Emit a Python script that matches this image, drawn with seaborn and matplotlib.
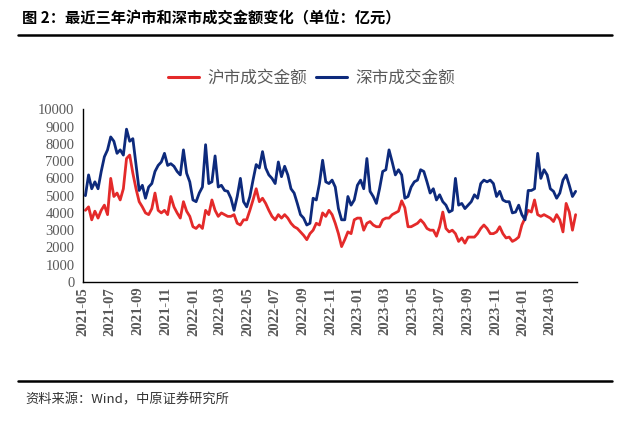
import pandas as pd
import matplotlib.pyplot as plt
import matplotlib.dates as mdates
from matplotlib.lines import Line2D
import seaborn as sns

# weekly readings (亿元), Friday of each week
dates = pd.date_range('2021-05-07', periods=156, freq='7D')

sh_amount = [4150, 4350, 3600, 4100, 3700, 4150, 4450, 3900, 6000, 4950, 5150, 4750, 5400,
             7150, 7350, 6300, 5400, 4650, 4350, 4000, 3900, 4250, 5150, 4150, 4000, 4150,
             3900, 4950, 4350, 4000, 3700, 4650, 4100, 3800, 3200, 3100, 3300, 3100, 4150,
             3900, 4750, 4150, 3800, 4000, 3900, 3800, 3800, 3900, 3400, 3300, 3600, 3600,
             4150, 4750, 5400, 4650, 4850, 4550, 4150, 3800, 3600, 3900, 3700, 3900, 3700,
             3400, 3200, 3100, 2900, 2700, 2450, 2800, 3000, 3400, 3300, 4000, 3800, 4150,
             3900, 3400, 2800, 2050, 2450, 2900, 2800, 3600, 3700, 3700, 3000, 3400, 3500,
             3300, 3200, 3200, 3600, 3700, 3700, 3900, 4000, 4100, 4700, 4300, 3200, 3200,
             3300, 3400, 3600, 3400, 3100, 3000, 3000, 2650, 3200, 4050, 3100, 2900, 3000,
             2800, 2350, 2550, 2250, 2600, 2600, 2600, 2800, 3100, 3300, 3100, 2800, 2800,
             2900, 3200, 2800, 2550, 2600, 2350, 2450, 2600, 3300, 3700, 4150, 4050, 4750,
             3900, 3800, 3900, 3800, 3700, 3500, 3900, 3600, 2900, 4550, 4050, 3000, 3900]

sz_amount = [5000, 6200, 5400, 5800, 5400, 6400, 7250, 7650, 8400, 8150, 7450, 7650, 7350,
             8850, 8150, 8300, 6800, 5300, 5600, 4850, 5500, 5700, 6400, 6750, 6950, 7450,
             6750, 6850, 6700, 6400, 6200, 7650, 6300, 5800, 4750, 4650, 5150, 5500, 7950,
             5700, 5800, 7300, 5500, 5600, 5300, 5250, 4850, 4150, 4950, 6000, 4650, 4350,
             4950, 5900, 6800, 6600, 7550, 6600, 6200, 6000, 5700, 6950, 6100, 6700, 6200,
             5400, 5150, 4550, 3900, 3700, 3300, 3400, 4850, 4750, 5700, 7050, 5800, 5700,
             5900, 5500, 4250, 3600, 3600, 4950, 4450, 4750, 5600, 5900, 5400, 7150, 5250,
             4950, 4550, 5400, 6400, 6500, 7650, 6950, 6200, 6500, 6200, 4850, 4950, 5500,
             5800, 5900, 6500, 6400, 5800, 5150, 5400, 4750, 5050, 4650, 4450, 4050, 4150,
             6000, 4450, 4550, 4250, 4450, 4650, 5050, 4850, 5700, 5900, 5800, 5900, 5700,
             4950, 5250, 4750, 4650, 4650, 4000, 4050, 4450, 3900, 3600, 5300, 5300, 5400,
             7450, 6000, 6500, 6200, 5400, 5250, 4850, 5150, 5900, 6200, 5600, 4950, 5250]

series_names = ['沪市成交金额', '深市成交金额']
colors = ['#E42A2A', '#0D2A7C']
y_ticks = list(range(0, 10001, 1000))

df = pd.DataFrame({'日期': list(dates) * 2,
                   '成交金额': sh_amount + sz_amount,
                   '市场': [series_names[0]] * len(dates) + [series_names[1]] * len(dates)})

sns.set_style('white')
plt.rcParams['font.family'] = ['Noto Sans CJK SC', 'DejaVu Sans']

fig = plt.figure(figsize=(6.26, 4.29), dpi=100, facecolor='white')
ax = fig.add_axes([0.1321, 0.3427, 0.7896, 0.4025])

sns.lineplot(data=df, x='日期', y='成交金额', hue='市场', palette=colors,
             linewidth=2.0, ax=ax, legend=False)

ax.set_xlim(pd.Timestamp('2021-05-01'), pd.Timestamp('2024-04-29'))
ax.set_ylim(0, 10000)
ax.set_yticks(y_ticks)
ax.xaxis.set_major_locator(mdates.MonthLocator(bymonth=[1, 3, 5, 7, 9, 11]))
ax.xaxis.set_major_formatter(mdates.DateFormatter('%Y-%m'))
ax.set_xlabel('')
ax.set_ylabel('')

for s in ['top', 'right']:
    ax.spines[s].set_visible(False)
for s in ['left', 'bottom']:
    ax.spines[s].set_color('black')
    ax.spines[s].set_linewidth(1.0)

ax.tick_params(axis='both', direction='in', length=4, width=1, color='black',
               labelcolor='#595959', labelsize=10.5, labelfontfamily='Liberation Serif')
ax.tick_params(axis='y', pad=6)
ax.tick_params(axis='x', labelrotation=90)
for label in ax.get_xticklabels():
    label.set_fontweight('bold')

handles = [Line2D([], [], color=c, linewidth=2.2) for c in colors]
fig.legend(handles, series_names, loc='center', bbox_to_anchor=(0.4976, 0.818),
           ncol=2, frameon=False, fontsize=12, labelcolor='#595959',
           handlelength=1.9, handletextpad=0.5, columnspacing=0.5)

fig.text(0.035, 0.958, '图 2：最近三年沪市和深市成交金额变化（单位：亿元）',
         fontsize=11, fontweight='bold', color='black', va='center', ha='left')
fig.add_artist(Line2D([0.029, 0.978], [0.918, 0.918], color='black', linewidth=1.8))
fig.add_artist(Line2D([0.029, 0.978], [0.112, 0.112], color='black', linewidth=1.8))
fig.text(0.04, 0.068, '资料来源：Wind，中原证券研究所', fontsize=9.5, color='#333333',
         va='center', ha='left')

plt.savefig('out.png', dpi=100)
